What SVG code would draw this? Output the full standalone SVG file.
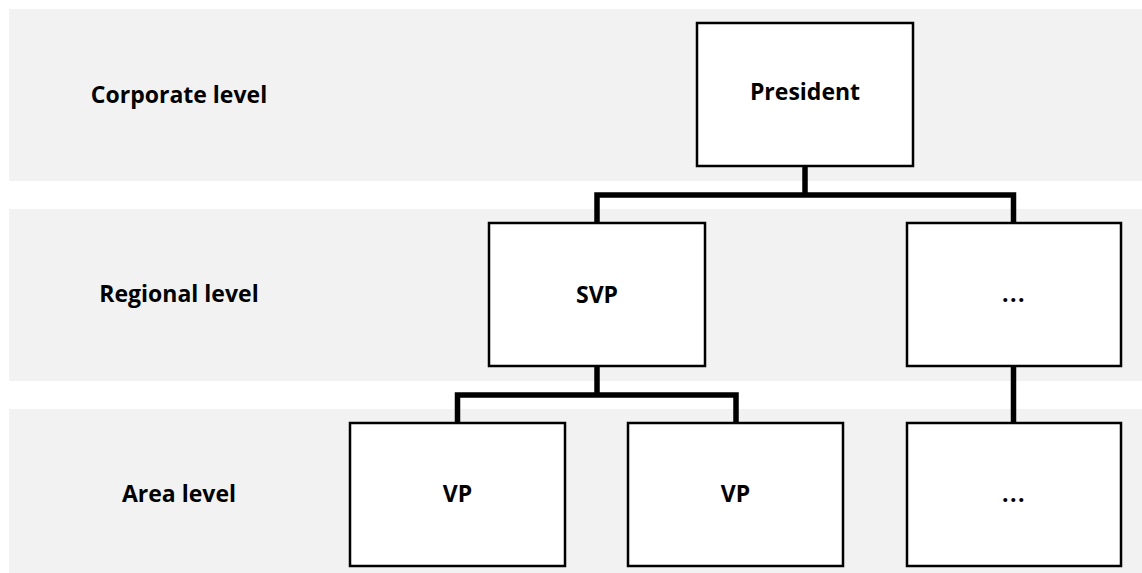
<svg xmlns="http://www.w3.org/2000/svg" width="1142" height="573" viewBox="0 0 1142 573">
  <style>
    .band { fill: #f2f2f2; }
    .box { fill: #ffffff; stroke: #000000; stroke-width: 2.5; }
    .label { font-family: "Open Sans", "Noto Sans", "DejaVu Sans", sans-serif; font-weight: 700; font-size: 23px; fill: #000000; text-anchor: middle; }
    .dots { letter-spacing: 1.5px; }
    .link { fill: none; stroke: #000000; stroke-width: 5.5; stroke-linejoin: miter; }
  </style>

  <!-- level bands -->
  <g id="bands">
    <rect class="band" x="9" y="9" width="1133" height="172"/>
    <rect class="band" x="9" y="209" width="1133" height="172"/>
    <rect class="band" x="9" y="409" width="1133" height="164"/>
  </g>

  <!-- level labels -->
  <g id="level-labels">
    <text class="label" x="179" y="103">Corporate level</text>
    <text class="label" x="179" y="302">Regional level</text>
    <text class="label" x="179" y="502">Area level</text>
  </g>

  <!-- reporting lines -->
  <g id="connectors">
    <path class="link" d="M805 166 V195"/>
    <path class="link" d="M597 223 V195 H1013.5 V223"/>
    <path class="link" d="M597 366 V395"/>
    <path class="link" d="M457.5 423 V395 H736 V423"/>
    <path class="link" d="M1013.5 366 V423"/>
  </g>

  <g id="president">
    <rect class="box" x="697" y="23" width="216" height="143"/>
    <text class="label" x="805" y="100">President</text>
  </g>

  <g id="svp">
    <rect class="box" x="489" y="223" width="216" height="143"/>
    <text class="label" x="597" y="303">SVP</text>
  </g>

  <g id="regional-more">
    <rect class="box" x="907" y="223" width="214" height="143"/>
    <text class="label dots" x="1014" y="302">...</text>
  </g>

  <g id="vp-1">
    <rect class="box" x="350" y="423" width="215" height="143"/>
    <text class="label" x="457.5" y="502">VP</text>
  </g>

  <g id="vp-2">
    <rect class="box" x="628" y="423" width="215" height="143"/>
    <text class="label" x="735.5" y="502">VP</text>
  </g>

  <g id="area-more">
    <rect class="box" x="907" y="423" width="214" height="143"/>
    <text class="label dots" x="1014" y="502">...</text>
  </g>
</svg>
